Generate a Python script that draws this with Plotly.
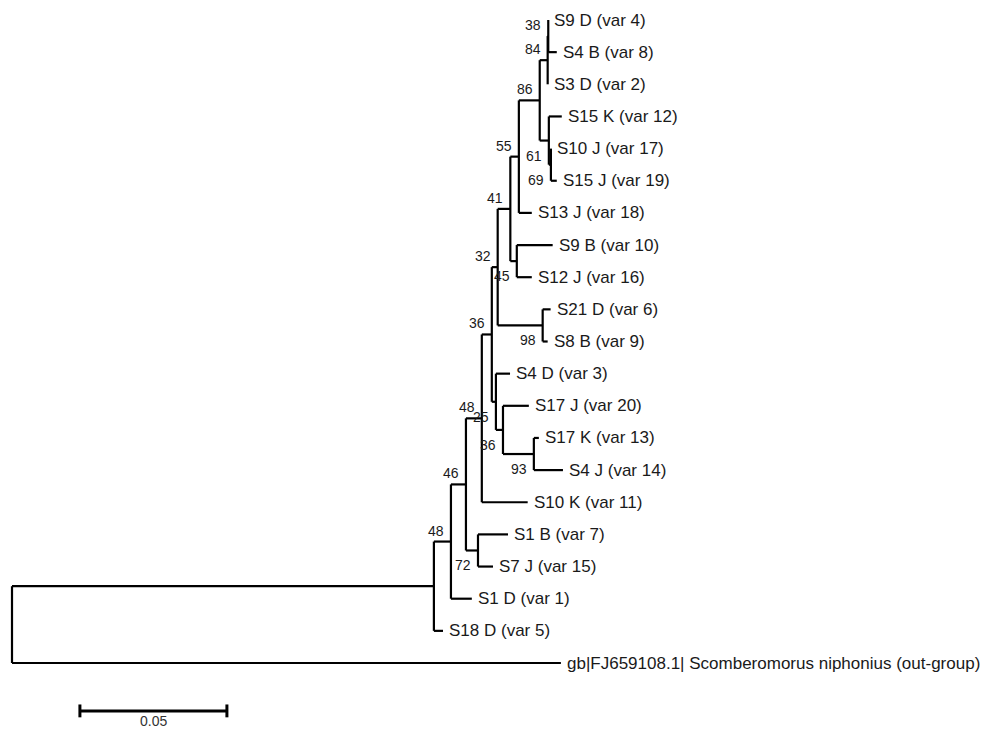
import plotly.graph_objects as go

# ---- tree data (children listed in display order, top to bottom) ----
node_ids = ["ROOT", "NA", "OUT", "NB", "S18D", "NC", "S1D", "NE", "ND",
            "N36a", "S10K", "N32", "NX", "N41", "N98", "N55", "N45",
            "N86", "S13J", "N84", "N61", "N38", "S3D", "S9D", "S4B",
            "S15K", "N69", "S10J", "S15J", "S9B", "S12J", "S21D", "S8B",
            "S4D", "N36b", "S17J", "N93", "S17K", "S4J", "S1B", "S7J"]
parent_ids = [None, "ROOT", "ROOT", "NA", "NA", "NB", "NB", "NC", "NC",
              "NE", "NE", "N36a", "N36a", "N32", "N32", "N41", "N41",
              "N55", "N55", "N86", "N86", "N84", "N84", "N38", "N38",
              "N61", "N61", "N69", "N69", "N45", "N45", "N98", "N98",
              "NX", "NX", "N36b", "N36b", "N93", "N93", "ND", "ND"]
branch_lengths = [0.0, 0.1435, 0.1867, 0.0058, 0.0031, 0.0051, 0.0071, 0.0054, 0.0041,
                  0.0034, 0.0156, 0.0020, 0.0014, 0.0043, 0.0153, 0.0029, 0.0022,
                  0.0071, 0.0044, 0.0027, 0.0031, 0.0002, 0.0, 0.0, 0.0029,
                  0.0044, 0.0007, 0.0, 0.0020, 0.0122, 0.0051, 0.0027, 0.0017,
                  0.0048, 0.0024, 0.0088, 0.0105, 0.0017, 0.0099, 0.0102, 0.0051]
support = {"N38": 38, "N84": 84, "N86": 86, "N55": 55, "N61": 61, "N69": 69,
           "N41": 41, "N45": 45, "N32": 32, "N98": 98, "N36a": 36, "NX": 25,
           "N36b": 36, "N93": 93, "NE": 48, "NC": 46, "ND": 72, "NB": 48}
leaf_labels = {"S9D": "S9 D (var 4)", "S4B": "S4 B (var 8)", "S3D": "S3 D (var 2)",
               "S15K": "S15 K (var 12)", "S10J": "S10 J (var 17)", "S15J": "S15 J (var 19)",
               "S13J": "S13 J (var 18)", "S9B": "S9 B (var 10)", "S12J": "S12 J (var 16)",
               "S21D": "S21 D (var 6)", "S8B": "S8 B (var 9)", "S4D": "S4 D (var 3)",
               "S17J": "S17 J (var 20)", "S17K": "S17 K (var 13)", "S4J": "S4 J (var 14)",
               "S10K": "S10 K (var 11)", "S1B": "S1 B (var 7)", "S7J": "S7 J (var 15)",
               "S1D": "S1 D (var 1)", "S18D": "S18 D (var 5)",
               "OUT": "gb|FJ659108.1| Scomberomorus niphonius (out-group)"}
scale_value = 0.05
scale_label = "0.05"

# ---- layout computation ----
children = {n: [] for n in node_ids}
blen = dict(zip(node_ids, branch_lengths))
parent_of = dict(zip(node_ids, parent_ids))
for n, p in zip(node_ids, parent_ids):
    if p is not None:
        children[p].append(n)

xpos, ypos = {}, {}
counter = [0]

def layout(n, x):
    xpos[n] = x
    if not children[n]:
        ypos[n] = counter[0]
        counter[0] += 1
        return
    for c in children[n]:
        layout(c, x + blen[c])
    ypos[n] = (ypos[children[n][0]] + ypos[children[n][-1]]) / 2

layout("ROOT", 0.0)

lx, ly = [], []
for n in node_ids:
    p = parent_of[n]
    if p is not None:
        lx += [xpos[p], xpos[n], None]
        ly += [ypos[n], ypos[n], None]
    if children[n]:
        f, l = children[n][0], children[n][-1]
        lx += [xpos[n], xpos[n], None]
        ly += [ypos[f], ypos[l], None]

fig = go.Figure()
fig.add_trace(go.Scatter(x=lx, y=ly, mode="lines",
                         line=dict(color="black", width=2.2), hoverinfo="skip",
                         showlegend=False))

annotations = []
txtcol = "#1a1a1a"
for n, lab in leaf_labels.items():
    annotations.append(dict(x=xpos[n], y=ypos[n], text=lab, showarrow=False,
                            xanchor="left", yanchor="middle", xshift=4,
                            font=dict(family="Liberation Sans, Arial", size=17, color=txtcol)))

for n, s in support.items():
    p = parent_of[n]
    upper = children[p][0] == n
    annotations.append(dict(x=xpos[n], y=ypos[n], text=str(s), showarrow=False,
                            xanchor="right", yanchor="middle", xshift=-5,
                            yshift=11 if upper else -15,
                            font=dict(family="Liberation Sans, Arial", size=14, color=txtcol)))

# scale bar
sb_x0 = 0.0231
sb_y = 21.49
fig.add_trace(go.Scatter(x=[sb_x0, sb_x0 + scale_value], y=[sb_y, sb_y], mode="lines",
                         line=dict(color="black", width=3), hoverinfo="skip", showlegend=False))
for xe in [sb_x0, sb_x0 + scale_value]:
    fig.add_trace(go.Scatter(x=[xe, xe], y=[sb_y - 0.2, sb_y + 0.2], mode="lines",
                             line=dict(color="black", width=3), hoverinfo="skip",
                             showlegend=False))
annotations.append(dict(x=sb_x0 + scale_value / 2, y=sb_y, text=scale_label, showarrow=False,
                        xanchor="center", yanchor="middle", yshift=-10,
                        font=dict(family="Liberation Sans, Arial", size=14, color="#333")))

# page has an 8px body margin: figure spans reference pixels 8..995 / 8..729
PX = 2940.0   # pixels per substitution unit
ROW = 32.15   # pixels per leaf row
fig.update_layout(
    width=987, height=721,
    margin=dict(l=0, r=0, t=0, b=0),
    paper_bgcolor="white", plot_bgcolor="white",
    xaxis=dict(range=[(8 - 12) / PX, (995 - 12) / PX], visible=False, fixedrange=True),
    yaxis=dict(range=[(729 - 20) / ROW, (8 - 20) / ROW], visible=False, fixedrange=True),
    annotations=annotations,
    showlegend=False,
)

fig.write_html("out.html")
